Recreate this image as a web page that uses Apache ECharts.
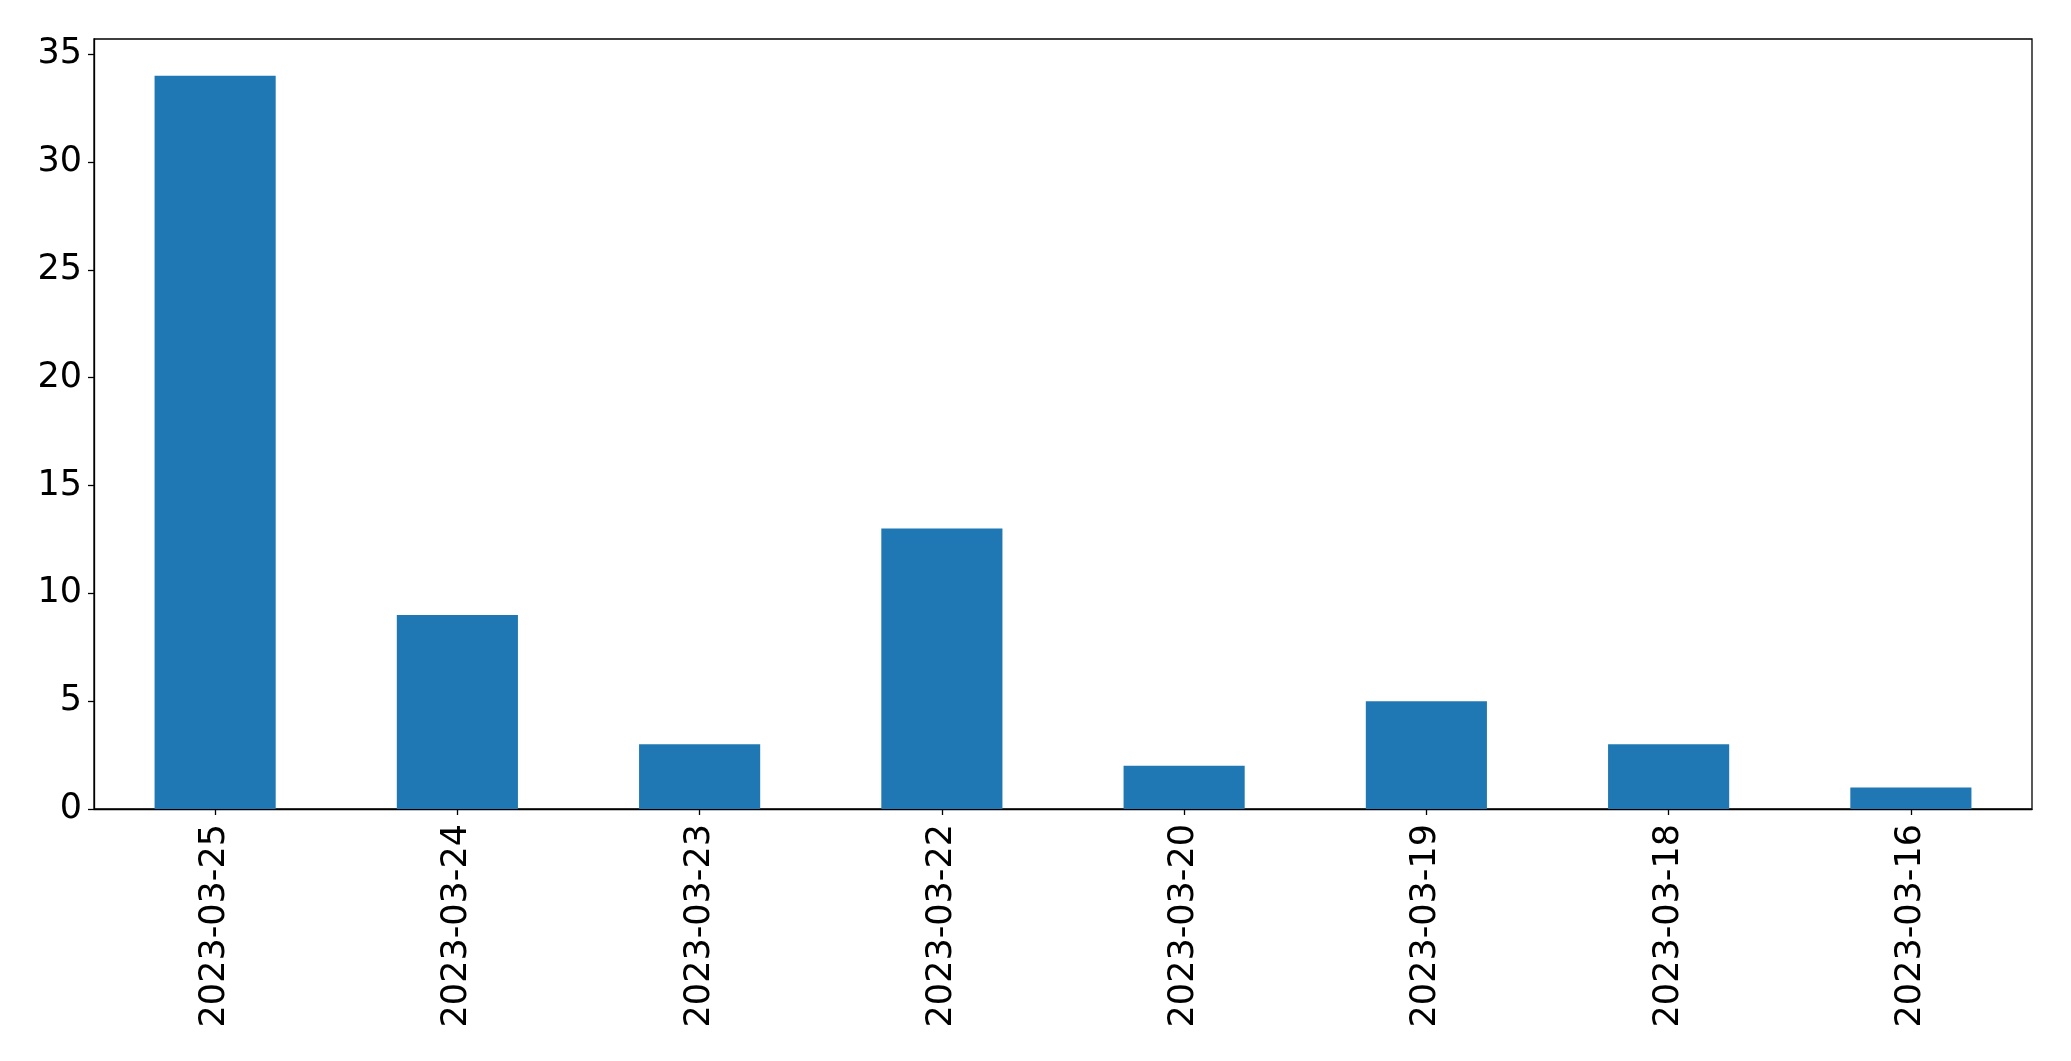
<!DOCTYPE html>
<html>
<head>
<meta charset="utf-8">
<script src="https://cdn.jsdelivr.net/npm/echarts@6/dist/echarts.min.js"></script>
<style>html,body{margin:0;padding:0;background:#fff}#c{width:2071px;height:1061px}</style>
</head>
<body>
<div id="c"></div>
<script>
const categories = ['2023-03-25','2023-03-24','2023-03-23','2023-03-22','2023-03-20','2023-03-19','2023-03-18','2023-03-16'];
const counts = [34, 9, 3, 13, 2, 5, 3, 1];
const yTicks = [0, 5, 10, 15, 20, 25, 30, 35];

const chart = echarts.init(document.getElementById('c'));
chart.setOption({
  animation: false,
  backgroundColor: '#fff',
  textStyle: { fontFamily: 'DejaVu Sans' },
  grid: { left: 94, right: 39, top: 39, bottom: 252, show: true, borderColor: '#000', borderWidth: 1.3, backgroundColor: 'transparent' },
  xAxis: {
    type: 'category',
    data: categories,
    axisLine: { show: true, lineStyle: { color: '#000', width: 1.3 } },
    axisTick: { show: true, alignWithLabel: true, length: 6, lineStyle: { color: '#000', width: 1.3 } },
    axisLabel: { rotate: 90, fontSize: 35, color: '#000', margin: 15, interval: 0, fontFamily: 'DejaVu Sans' },
    splitLine: { show: false }
  },
  yAxis: {
    type: 'value',
    min: 0,
    max: 35.7,
    interval: 5,
    axisLine: { show: true, lineStyle: { color: '#000', width: 1.3 } },
    axisTick: { show: true, length: 6, lineStyle: { color: '#000', width: 1.3 }, customValues: yTicks },
    axisLabel: { fontSize: 35, color: '#000', margin: 12, fontFamily: 'DejaVu Sans', customValues: yTicks },
    splitLine: { show: false }
  },
  series: [{
    type: 'bar',
    data: counts,
    barWidth: '50%',
    itemStyle: { color: '#1f77b4' }
  }]
});
</script>
</body>
</html>
